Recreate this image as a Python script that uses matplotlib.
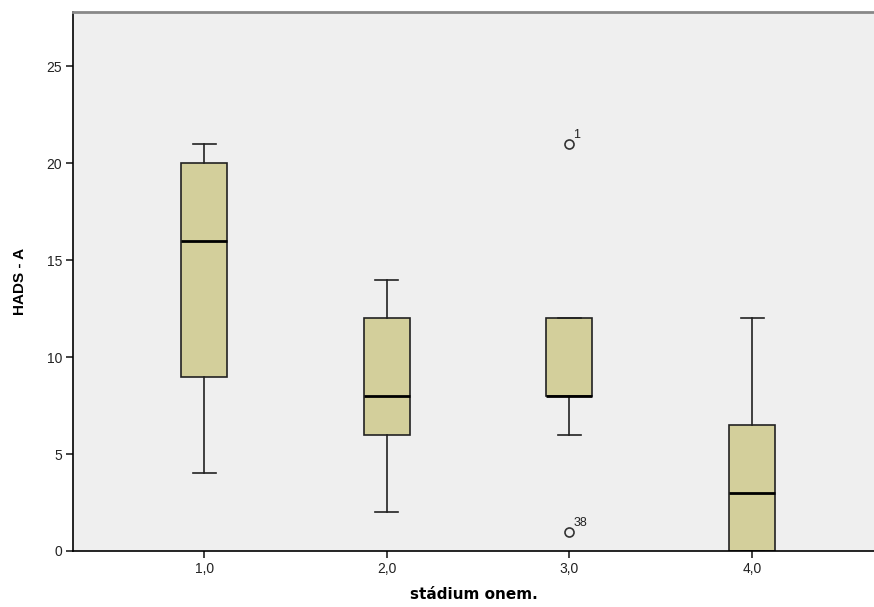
import matplotlib.pyplot as plt

stages = [1.0, 2.0, 3.0, 4.0]
tick_labels = ["1,0", "2,0", "3,0", "4,0"]
whislo = [4, 2, 6, 0]
q1 = [9, 6, 8, 0]
med = [16, 8, 8, 3]
q3 = [20, 12, 12, 6.5]
whishi = [21, 14, 12, 12]
fliers = [[], [], [21, 1], []]
flier_ids = [[], [], ["1", "38"], []]

stats = []
for i in range(len(stages)):
    stats.append({"whislo": whislo[i], "q1": q1[i], "med": med[i], "q3": q3[i],
                  "whishi": whishi[i], "fliers": fliers[i]})

fig = plt.figure(figsize=(8.74, 6.07), dpi=100)
ax = fig.add_axes([73 / 874, 56 / 607, 1 - 73 / 874, (551 - 12) / 607])
ax.set_facecolor("#efefef")

ax.bxp(stats, positions=stages, widths=0.252, patch_artist=True,
       boxprops=dict(facecolor="#d3cf9b", edgecolor="#222222", linewidth=1.2),
       medianprops=dict(color="black", linewidth=2),
       whiskerprops=dict(color="#222222", linewidth=1.2),
       capprops=dict(color="#222222", linewidth=1.2),
       capwidths=0.126,
       flierprops=dict(marker="o", markerfacecolor="none", markeredgecolor="#333333",
                       markersize=6.5, markeredgewidth=1.2))

for i, s in enumerate(stages):
    for v, lab in zip(fliers[i], flier_ids[i]):
        ax.annotate(lab, (s, v), xytext=(3, 4), textcoords="offset points",
                    fontsize=9, color="#222222", family="Liberation Sans")

ax.set_xlim(0.282, 4.668)
ax.set_ylim(0, 27.8)
ax.set_xticks(stages)
ax.set_xticklabels(tick_labels)
ax.set_yticks([0, 5, 10, 15, 20, 25])
ax.tick_params(direction="out", length=5, width=1.2, labelsize=10, colors="#222222", pad=3)
for t in ax.get_xticklabels() + ax.get_yticklabels():
    t.set_family("Liberation Sans")

ax.spines["right"].set_visible(False)
ax.spines["top"].set_color("#888888")
ax.spines["top"].set_linewidth(2)
ax.spines["left"].set_linewidth(1.2)
ax.spines["bottom"].set_linewidth(1.2)

ax.set_xlabel("stádium onem.", fontsize=11, fontweight="bold", labelpad=8)
ax.set_ylabel("HADS - A", fontsize=11, fontweight="bold", family="Liberation Sans", labelpad=14)

fig.savefig("out.png", dpi=100)
